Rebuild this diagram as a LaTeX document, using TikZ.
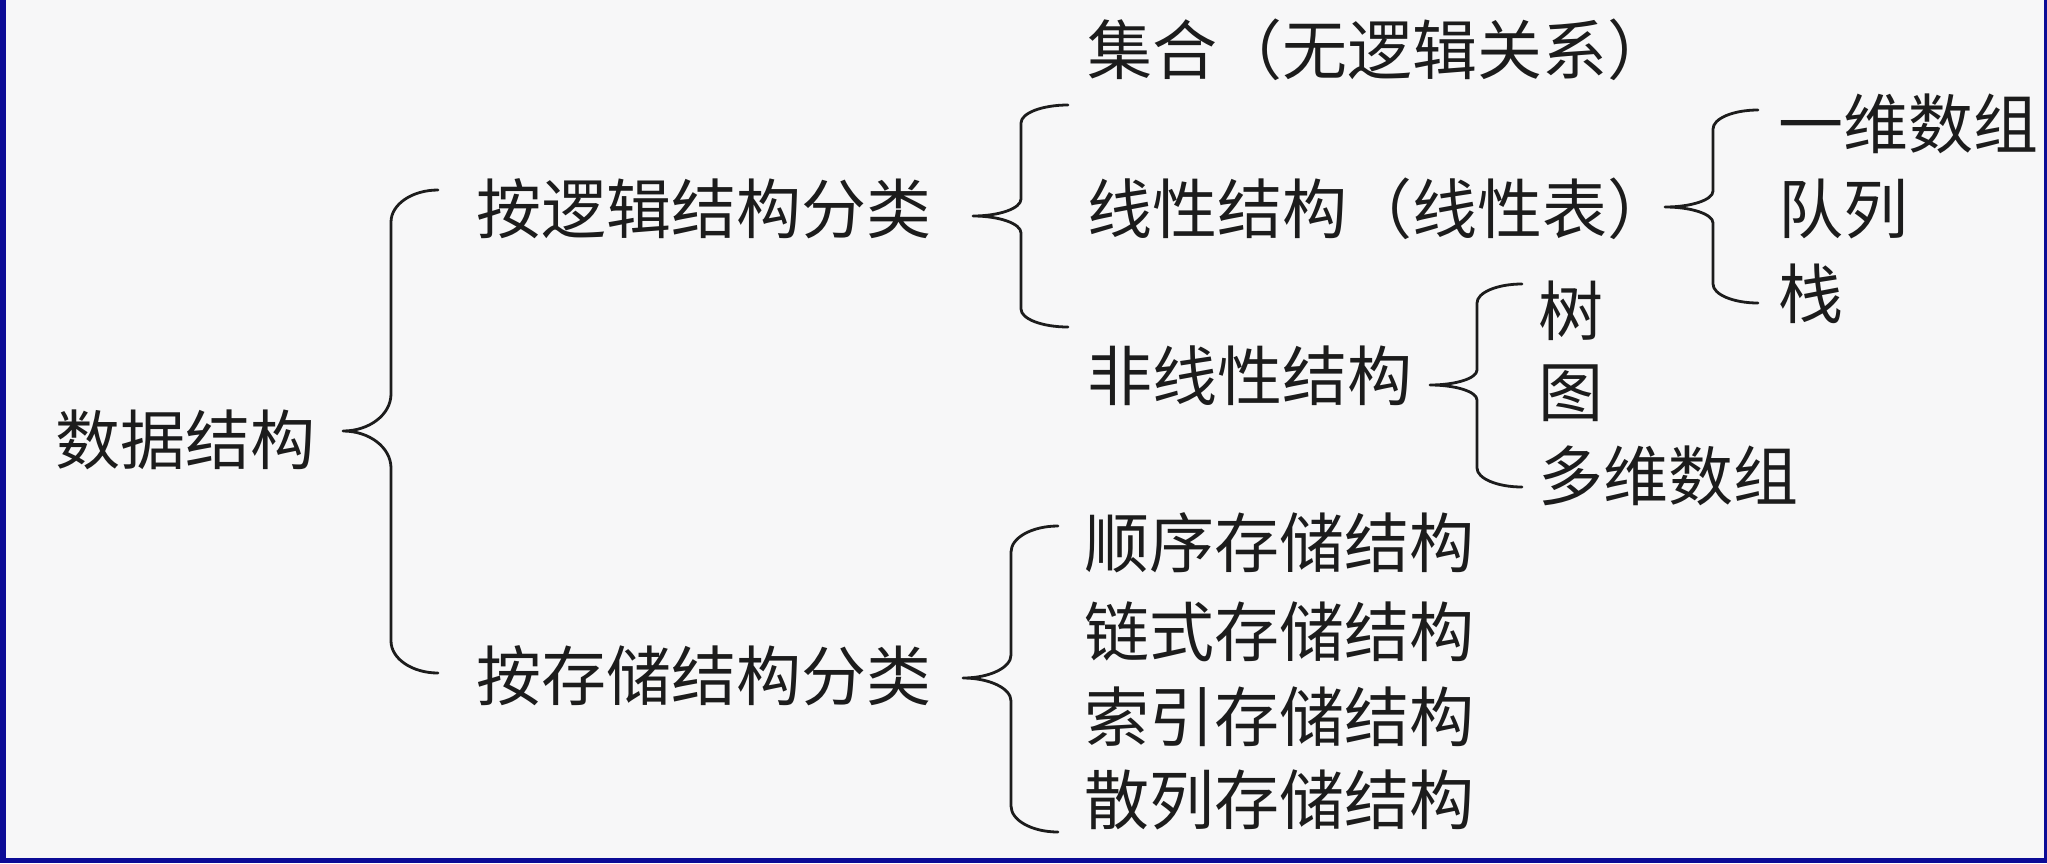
\documentclass[tikz,border=0pt]{standalone}
\usepackage{fontspec}
\newfontfamily\cjk{Noto Sans CJK SC}
\definecolor{pagebg}{RGB}{247,247,248}
\definecolor{frameblue}{RGB}{12,12,150}
\definecolor{ink}{RGB}{28,28,28}
\tikzset{
  label/.style={anchor=west, inner sep=0pt, outer sep=0pt, text=ink,
    font=\cjk\fontsize{65}{65}\selectfont},
  bracestyle/.style={draw=ink, line width=2.8pt, line cap=round, line join=round}
}
% curly brace: tip x, tip y, stem x, end x, top y, bottom y,
% vertical radius of the end curls, vertical radius of the tip curls
\newcommand\cbrace[8]{%
  \pgfmathsetmacro\bke{0.552*(#4-#3)}%
  \pgfmathsetmacro\bkt{0.552*(#3-#1)}%
  \draw[bracestyle] (#4,#5)
    .. controls (#4-\bke,#5) and (#3,#5+0.448*#7) .. (#3,#5+#7)
    -- (#3,#2-#8)
    .. controls (#3,#2-0.448*#8) and (#1+\bkt,#2) .. (#1,#2)
    .. controls (#1+\bkt,#2) and (#3,#2+0.448*#8) .. (#3,#2+#8)
    -- (#3,#6-#7)
    .. controls (#3,#6-0.448*#7) and (#4-\bke,#6) .. (#4,#6);}
\begin{document}
\begin{tikzpicture}[x=1pt,y=-1pt]
\useasboundingbox (0,0) rectangle (2047,863);
\fill[pagebg] (0,0) rectangle (2047,863);
\fill[frameblue] (0,0) rectangle (6,863);
\fill[frameblue] (0,858) rectangle (2047,863);
\fill[frameblue] (2044,0) rectangle (2047,863);

% root
\node[label] (root) at (55,440) {数据结构};

% first level
\node[label] (logic) at (476,209) {按逻辑结构分类};
\node[label] (store) at (476,676) {按存储结构分类};
\cbrace{343}{431}{391}{438}{190}{673}{32}{37}

% logical structures
\node[label] (set)    at (1087,50)  {集合（无逻辑关系）};
\node[label] (linear) at (1087,209) {线性结构（线性表）};
\node[label] (nonlin) at (1087,376) {非线性结构};
\cbrace{973}{216}{1021}{1068}{105}{327}{18}{17}

% linear kinds
\node[label] (arr1)  at (1778,124) {一维数组};
\node[label] (queue) at (1778,209) {队列};
\node[label] (stack) at (1778,294) {栈};
\cbrace{1665}{207}{1713}{1758}{110}{303}{19}{16}

% non-linear kinds
\node[label] (tree)  at (1538,311) {树};
\node[label] (graph) at (1538,393) {图};
\node[label] (arrn)  at (1538,476) {多维数组};
\cbrace{1430}{385}{1477}{1522}{284}{487}{19}{15}

% storage structures
\node[label] (seq)   at (1084,543) {顺序存储结构};
\node[label] (link)  at (1084,632) {链式存储结构};
\node[label] (index) at (1084,717) {索引存储结构};
\node[label] (hash)  at (1084,800) {散列存储结构};
\cbrace{963}{678}{1011}{1058}{526}{832}{26}{23}
\end{tikzpicture}
\end{document}
